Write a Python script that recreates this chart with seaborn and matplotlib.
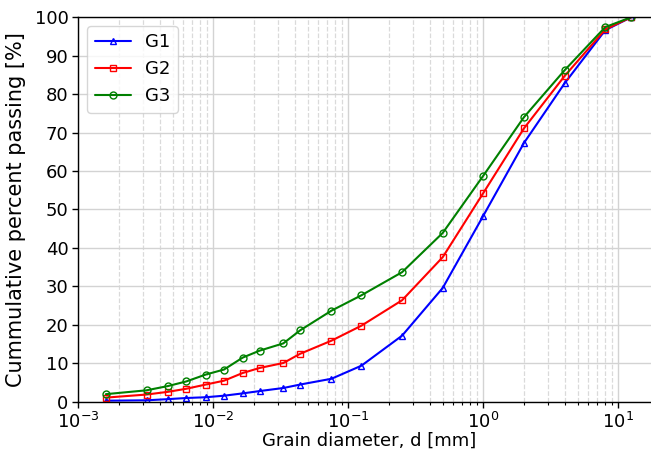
import matplotlib
matplotlib.use("Agg")
import matplotlib.pyplot as plt
import seaborn as sns
import pandas as pd
from matplotlib.ticker import LogLocator, NullFormatter

diameter = [0.0016, 0.0032, 0.0046, 0.0063, 0.0088, 0.012, 0.0165, 0.022, 0.033,
            0.044, 0.075, 0.125, 0.25, 0.5, 1.0, 2.0, 4.0, 8.0, 12.5]
g1 = [0.3, 0.4, 0.7, 1.0, 1.2, 1.6, 2.2, 2.8, 3.6, 4.5, 6.0, 9.4, 17.2, 29.6, 48.4, 67.3, 82.8, 96.6, 100.0]
g2 = [1.1, 1.9, 2.6, 3.4, 4.5, 5.5, 7.5, 8.8, 10.1, 12.5, 15.9, 19.8, 26.4, 37.6, 54.3, 71.1, 84.7, 96.8, 100.0]
g3 = [2.0, 3.0, 4.1, 5.3, 7.1, 8.4, 11.5, 13.3, 15.2, 18.6, 23.7, 27.7, 33.7, 43.9, 58.8, 74.0, 86.2, 97.4, 100.0]
series_names = ["G1", "G2", "G3"]

df = pd.DataFrame({"d": diameter, "G1": g1, "G2": g2, "G3": g3})

sns.set_style("white")
plt.rcParams['font.family'] = ['DejaVu Sans']
plt.rcParams['text.color'] = 'black'
plt.rcParams['axes.labelcolor'] = 'black'
plt.rcParams['xtick.color'] = 'black'
plt.rcParams['ytick.color'] = 'black'

fig = plt.figure(figsize=(6.51, 4.5), dpi=100)
ax = fig.add_axes([0.1203, 0.107, 0.892, 0.855])

styles = {"G1": ("blue", "^"), "G2": ("red", "s"), "G3": ("green", "o")}
for name in series_names:
    c, m = styles[name]
    sns.lineplot(data=df, x="d", y=name, ax=ax, color=c, marker=m,
                 markerfacecolor="none", markeredgecolor=c, markersize=5,
                 markeredgewidth=1.0, linewidth=1.5, label=name)

ax.set_xscale("log")
ax.set_xlim(1e-3, 20)
ax.set_ylim(0, 100)
ax.set_yticks(range(0, 101, 10))
ax.xaxis.set_minor_locator(LogLocator(base=10, subs=range(2, 10), numticks=20))
ax.xaxis.set_minor_formatter(NullFormatter())

ax.grid(True, which="major", axis="both", color="#d3d3d3", linewidth=1.0, linestyle="-")
ax.grid(True, which="minor", axis="x", color="#dadada", linewidth=0.9, linestyle="--")
ax.set_axisbelow(True)

for sp in ax.spines.values():
    sp.set_color("black")
    sp.set_linewidth(1.0)

ax.tick_params(axis="both", which="major", direction="out", length=4.5, width=1,
               labelsize=13, color="black", labelcolor="black", bottom=True, left=True, pad=2.5)
ax.tick_params(axis="x", which="minor", direction="out", length=2.5, width=0.8,
               bottom=True, color="black")

ax.set_xlabel("Grain diameter, d [mm]", fontsize=13, labelpad=0)
ax.set_ylabel("Cummulative percent passing [%]", fontsize=15, labelpad=6)
ax.legend(loc="upper left", fontsize=13)

fig.savefig("out.png", dpi=100)
